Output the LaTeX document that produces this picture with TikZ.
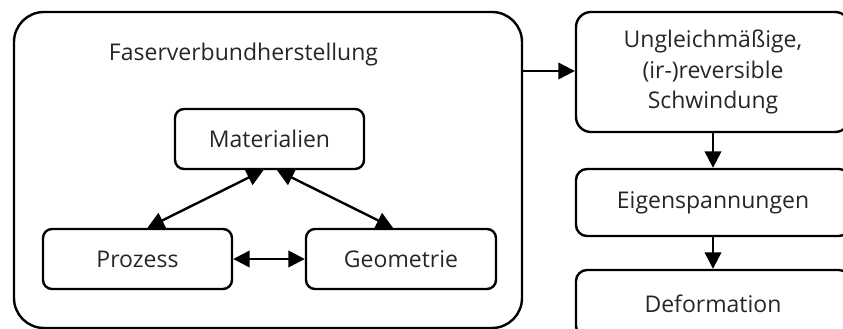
\documentclass[tikz,border=0pt]{standalone}
\usepackage{fontspec}
\setmainfont{Open Sans}
\usetikzlibrary{arrows.meta}
\begin{document}
\begin{tikzpicture}[x=1pt,y=-1pt,
  font=\fontsize{23}{30.5}\selectfont,
  box/.style={draw, line width=2.4pt, rounded corners=#1, inner sep=0pt, align=center, text=black!85},
  box/.default=9pt,
  tip/.tip={Triangle[length=16.5pt,width=16.5pt]},
  arr/.style={line width=2.4pt, -tip},
  biarr/.style={line width=2.4pt, tip-tip}
]
\useasboundingbox (0,0) rectangle (843,329);
\clip (0,0) rectangle (843,329);
% process group
\node[box=30pt, minimum width=508pt, minimum height=316pt] (fvh) at (268,170) {};
\node[text=black!85] (title) at (243.5,55) {Faserverbundherstellung};
\node[box, minimum width=189pt, minimum height=60pt] (mat) at (269.5,139) {Materialien};
\node[box, minimum width=189pt, minimum height=60pt] (proz) at (137.5,259) {Prozess};
\node[box, minimum width=190pt, minimum height=60pt] (geo) at (401,259) {Geometrie};
% consequences
\node[box=15pt, minimum width=274pt, minimum height=120pt] (ungl) at (713,72) {Ungleichmäßige,\\(ir-)reversible\\Schwindung};
\node[box=11pt, minimum width=274pt, minimum height=67pt] (eigen) at (713,202.5) {Eigenspannungen};
\node[box=11pt, minimum width=274pt, minimum height=67pt] (deform) at (713,303.5) {Deformation};
% connectors
\draw[biarr] ([xshift=-6pt]mat.south) -- ([xshift=10pt]proz.north);
\draw[biarr] ([xshift=7.5pt]mat.south) -- ([xshift=-8pt]geo.north);
\draw[biarr] (proz.east) -- (geo.west);
\draw[arr] (fvh.east |- 0,71) -- (ungl.west |- 0,71);
\draw[arr] (ungl.south) -- (eigen.north);
\draw[arr] (eigen.south) -- (deform.north);
\end{tikzpicture}
\end{document}
